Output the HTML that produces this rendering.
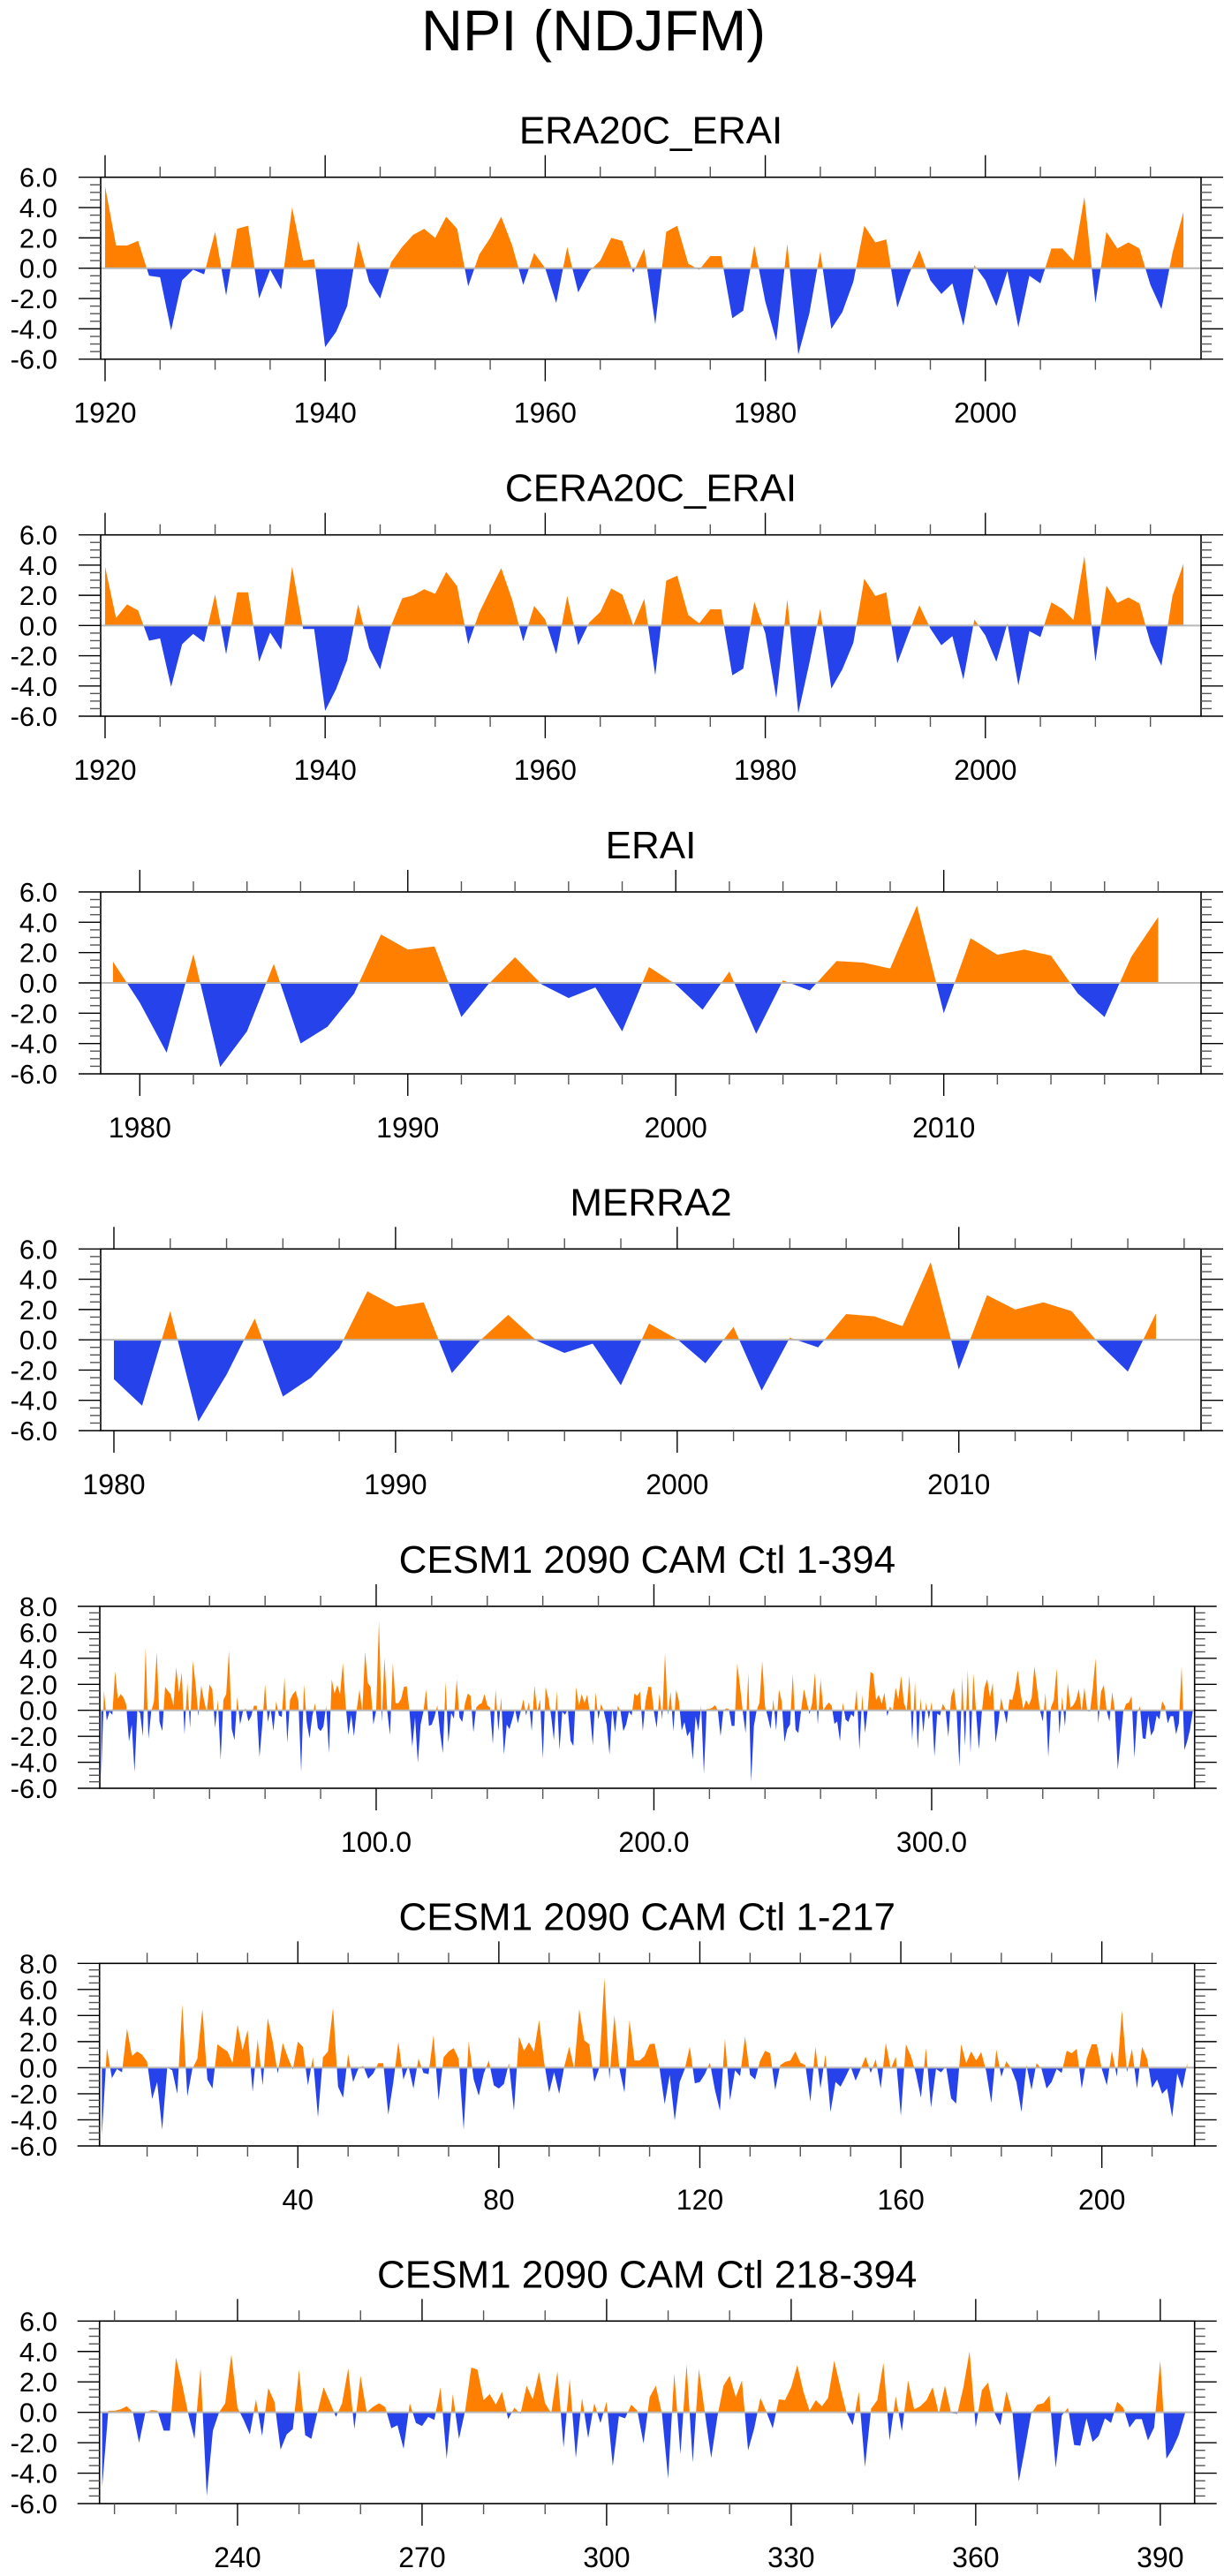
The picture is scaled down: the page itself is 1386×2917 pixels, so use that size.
<!DOCTYPE html>
<html>
<head>
<meta charset="utf-8">
<title>NPI (NDJFM)</title>
<style>
html,body{margin:0;padding:0;background:#fff;}
svg{display:block;}
text{font-family:"Liberation Sans",Arial,sans-serif;fill:#000;}
</style>
</head>
<body>
<svg id="chart" width="1386" height="2917" viewBox="0 0 1386 2917" xmlns="http://www.w3.org/2000/svg">
<text x="672" y="57" font-size="65" text-anchor="middle">NPI (NDJFM)</text>
</svg>
<script>
// ---- data ----
const era20cStart = 1920;
const era20cValues = [5.4,1.5,1.5,1.8,-0.5,-0.6,-4.1,-0.8,-0.1,-0.4,
2.4,-1.8,2.6,2.8,-2.0,-0.1,-1.4,4.0,0.5,0.6,
-5.2,-4.2,-2.5,1.8,-0.9,-2.0,0.4,1.4,2.2,2.6,
2.0,3.4,2.6,-1.2,0.9,2.0,3.4,1.5,-1.1,1.0,
0.0,-2.3,1.4,-1.6,-0.2,0.5,2.0,1.8,-0.3,1.3,
-3.7,2.4,2.8,0.3,-0.1,0.8,0.8,-3.3,-2.8,1.5,
-2.2,-4.8,1.6,-5.7,-3.0,1.1,-4.0,-2.9,-0.9,2.8,
1.7,1.9,-2.6,-0.5,1.2,-0.8,-1.7,-1.0,-3.8,0.2,
-0.8,-2.5,-0.2,-3.9,-0.5,-1.0,1.3,1.3,0.5,4.7,
-2.3,2.4,1.3,1.7,1.3,-1.1,-2.7,1.0,3.7];
const cera20cStart = 1920;
const cera20cValues = [3.9,0.5,1.4,1.0,-1.0,-0.85,-4.06,-1.24,-0.56,-1.1,
2.06,-1.9,2.2,2.2,-2.4,-0.47,-1.6,3.9,-0.23,-0.23,
-5.65,-4.2,-2.3,1.4,-1.5,-2.9,0.0,1.8,2.0,2.4,
2.1,3.55,2.6,-1.24,0.85,2.35,3.8,1.7,-1.05,1.3,
0.4,-1.9,1.96,-1.3,0.2,0.9,2.45,2.06,0.0,1.77,
-3.3,2.97,3.3,0.7,0.15,1.07,1.07,-3.3,-2.85,1.57,
-0.5,-4.8,1.73,-5.8,-2.5,1.1,-4.17,-2.9,-1.15,3.1,
1.96,2.2,-2.5,-0.56,1.34,-0.2,-1.3,-0.7,-3.57,0.4,
-0.66,-2.4,0.15,-3.96,-0.37,-0.76,1.53,1.1,0.37,4.6,
-2.4,2.64,1.5,1.86,1.47,-1.15,-2.66,1.96,4.1];
const eraiStart = 1979;
const eraiValues = [1.4,-1.3,-4.6,1.9,-5.55,-3.2,1.25,-4.0,-2.9,-0.7,
3.2,2.2,2.4,-2.25,-0.1,1.7,-0.1,-1.0,-0.3,-3.2,
1.05,-0.1,-1.77,0.75,-3.36,0.17,-0.5,1.44,1.34,0.95,
5.1,-2.0,2.95,1.86,2.2,1.8,-0.7,-2.25,1.73,4.35];
const merra2Start = 1980;
const merra2Values = [-2.6,-4.35,1.9,-5.4,-2.3,1.4,-3.75,-2.5,-0.55,3.2,
2.2,2.47,-2.2,-0.05,1.65,-0.05,-0.87,-0.25,-3.0,1.07,
0.04,-1.55,0.85,-3.35,0.14,-0.5,1.7,1.55,0.9,5.13,
-1.96,2.95,2.0,2.47,1.9,-0.3,-2.1,1.75];
const cesmAStart = 1;
const cesmAValues = [-5.2,1.5,-0.8,-0.1,-0.35,3.0,0.9,1.25,1.0,0.45,
-2.4,-1.1,-4.75,0,-0.2,-2.0,4.85,-2.2,-0.1,0.7,
4.5,-0.9,-1.6,1.8,1.5,1.25,0.35,3.3,1.35,2.9,
-1.85,2.15,-1.35,3.8,2.0,-0.45,1.9,0.8,-0.15,2.0,
1.6,-1.35,0.8,-3.8,0.8,1.25,4.6,-1.45,-2.3,1.05,
-1.1,-0.1,0.15,-0.85,-0.45,0.35,0.35,-3.6,-1.1,2.0,
-0.9,0.15,-1.6,0.7,-0.4,-0.5,2.5,-2.5,0.8,1.25,
1.5,0.7,-4.75,2.0,-0.9,-2.15,-0.45,0.55,-1.35,-1.6,
-1.25,0.35,-3.3,2.4,1.3,1.95,1.25,3.65,0.45,-1.9,
-0.35,-2.0,0.05,1.6,-0.1,4.5,2.1,1.8,-1.1,0,
6.9,-0.9,4.05,-0.1,-1.9,3.65,0.55,0.55,0.9,1.8,
1.85,-0.1,-2.8,-0.55,-4.05,-1.1,-0.1,1.6,-1.2,-1.1,
-0.5,0.4,-1.7,-3.3,2.2,-2.5,-0.2,-0.65,2.4,-0.55,
-0.9,0.55,1.3,1.1,-1.7,0.2,0.45,0.55,1.25,0.4,
0.2,-2.6,1.6,-1.6,1.0,-3.4,-1.1,-1.45,-0.7,0.1,
-1.0,-0.1,0.85,-0.4,0.65,-1.6,1.9,-0.1,0.85,-3.7,
1.8,0.9,-0.45,-2.3,1.5,-3.05,-0.1,-0.35,0.1,-2.35,
-2.75,1.8,0.35,1.25,0.55,1.2,-0.3,-2.7,1.4,-0.7,
0.5,-0.1,-1.1,-3.4,0.2,-1.7,0.35,-0.1,-1.6,-1.1,
-0.1,-0.4,1.3,1.1,1.45,-1.6,0.7,1.8,1.8,-0.1,
-1.35,1.3,-0.7,4.4,-0.35,1.45,-1.6,1.6,0.7,-1.55,
-0.9,-2.0,-1.6,-3.8,-0.45,-1.6,0.35];
const cesmBStart = 218;
const cesmBValues = [-4.9,0.1,0.1,0.2,0.4,0,-2.0,-0.05,0.15,0.1,
-1.2,-1.2,3.6,1.85,-0.1,-1.75,2.9,-5.5,-1.2,0,
0.6,3.8,0.3,-0.5,-1.45,0.85,-1.55,1.6,0.7,-2.45,
-1.45,-1.1,2.8,-1.5,-1.75,0,1.65,0.7,-0.3,0.6,
2.9,-1.1,2.4,0,0.35,0.6,0.35,-1.05,-0.85,-2.4,
0.6,-0.7,-0.9,-0.3,-0.5,1.65,-3.05,1.2,-1.75,0.1,
2.95,2.8,0.8,1.2,0.5,1.35,-0.45,0.3,-0.1,1.75,
0.85,2.65,0.6,-0.05,2.7,-2.3,2.2,-3.0,0.95,-1.7,
0.6,-0.7,0.7,-3.55,-0.25,-0.4,0.5,0.1,-2.05,1.0,
1.75,-0.1,-4.35,2.55,-2.75,3.15,-3.3,2.85,-0.1,-3.0,
-0.3,1.75,2.4,1.0,2.1,-2.5,-1.05,0.95,0,-1.05,
0.85,0.8,1.65,3.1,1.35,0.1,0.8,0.4,0.95,3.4,
1.65,0,-0.85,1.35,-3.6,0.25,0.8,3.25,-1.85,1.05,
-1.25,2.1,0.2,0.4,0.8,1.65,-0.1,1.75,-0.05,-0.1,
1.65,4.0,-1.0,1.45,1.95,0,-0.85,1.4,-0.1,-4.55,
-2.4,-0.1,0.5,0.6,1.1,-3.65,-0.2,0.3,-2.15,-2.2,
-0.4,-1.95,-1.55,-0.4,-0.7,0.7,0.3,-1.0,-0.45,-0.45,
-1.85,-1.0,3.4,-3.05,-2.4,-1.5,-0.1];
const cesmAllValues = cesmAValues.concat(cesmBValues);

const panelTitles = ["ERA20C_ERAI","CERA20C_ERAI","ERAI","MERRA2","CESM1 2090 CAM Ctl 1-394","CESM1 2090 CAM Ctl 1-217","CESM1 2090 CAM Ctl 218-394"];
const yTicks6 = [-6,-4,-2,0,2,4,6];
const yTicks8 = [-6,-4,-2,0,2,4,6,8];
const xTicksCentury = [1920,1940,1960,1980,2000];
const xTicksDecade80 = [1980,1990,2000,2010];
const xTicks394 = [100,200,300];
const xTicks217 = [40,80,120,160,200];
const xTicks177 = [240,270,300,330,360,390];

// ---- layout ----
const NS = "http://www.w3.org/2000/svg";
const svg = document.getElementById("chart");
const panels = [
 {title:panelTitles[0], start:era20cStart, vals:era20cValues, top:200.7, bot:406.7, left:114, right:1360, xmin:1919.6, xmax:2019.6, ymin:-6, ymax:6, yt:yTicks6, xt:xTicksCentury, minor:5, fmt:v=>String(v), key:"era20c"},
 {title:panelTitles[1], start:cera20cStart, vals:cera20cValues, top:605.7, bot:811, left:114, right:1360, xmin:1919.6, xmax:2019.6, ymin:-6, ymax:6, yt:yTicks6, xt:xTicksCentury, minor:5, fmt:v=>String(v), key:"cera20c"},
 {title:panelTitles[2], start:eraiStart, vals:eraiValues, top:1010, bot:1216, left:114, right:1360, xmin:1978.54, xmax:2019.6, ymin:-6, ymax:6, yt:yTicks6, xt:xTicksDecade80, minor:2, fmt:v=>String(v), key:"erai"},
 {title:panelTitles[3], start:merra2Start, vals:merra2Values, top:1414.3, bot:1620, left:114, right:1360, xmin:1979.53, xmax:2018.6, ymin:-6, ymax:6, yt:yTicks6, xt:xTicksDecade80, minor:2, fmt:v=>String(v), key:"merra2"},
 {title:panelTitles[4], start:cesmAStart, vals:cesmAllValues, top:1819, bot:2025, left:113, right:1352.7, xmin:0.49, xmax:394.67, ymin:-6, ymax:8, yt:yTicks8, xt:xTicks394, minor:20, fmt:v=>v.toFixed(1), key:"cesm-1-394"},
 {title:panelTitles[5], start:cesmAStart, vals:cesmAValues, top:2223.3, bot:2430, left:112.7, right:1352.7, xmin:0.53, xmax:218.46, ymin:-6, ymax:8, yt:yTicks8, xt:xTicks217, minor:10, fmt:v=>String(v), key:"cesm-1-217"},
 {title:panelTitles[6], start:cesmBStart, vals:cesmBValues, top:2628.3, bot:2835, left:112.7, right:1352.7, xmin:217.57, xmax:395.58, ymin:-6, ymax:6, yt:yTicks6, xt:xTicks177, minor:10, fmt:v=>String(v), key:"cesm-218-394"}
];

function mk(tag, attrs, parent){
  const e = document.createElementNS(NS, tag);
  for (const k in attrs) e.setAttribute(k, attrs[k]);
  (parent||svg).appendChild(e);
  return e;
}

panels.forEach(function(p){
  const g = mk("g", {});
  
  
  const sx = v => p.left + (v - p.xmin) / (p.xmax - p.xmin) * (p.right - p.left);
  const sy = v => p.bot - (v - p.ymin) / (p.ymax - p.ymin) * (p.bot - p.top);
  const y0 = sy(0);

  // title
  const t = mk("text", {x:(p.left+p.right)/2, y:p.top-38, "font-size":44, "text-anchor":"middle"}, g);
  
  
  t.textContent = p.title;

  // points with zero crossings
  const pts = [];
  for (let i=0;i<p.vals.length;i++){
    const xv = p.start + i, v = p.vals[i];
    if (i>0){
      const pv = p.vals[i-1];
      if ((pv>0 && v<0) || (pv<0 && v>0)){
        const f = pv/(pv - v);
        pts.push([xv-1+f, 0]);
      }
    }
    pts.push([xv, v]);
  }
  function area(fn){
    let d = "M" + sx(pts[0][0]).toFixed(2) + "," + y0.toFixed(2);
    pts.forEach(q => { d += "L" + sx(q[0]).toFixed(2) + "," + sy(fn(q[1])).toFixed(2); });
    d += "L" + sx(pts[pts.length-1][0]).toFixed(2) + "," + y0.toFixed(2) + "Z";
    return d;
  }
  const pos = mk("path", {d:area(v=>Math.max(v,0)), fill:"#ff8000", stroke:"none"}, g);
  
  
  const neg = mk("path", {d:area(v=>Math.min(v,0)), fill:"#2642ea", stroke:"none"}, g);
  
  

  // zero line
  const zl = mk("line", {x1:p.left, x2:p.right, y1:y0, y2:y0, stroke:"#b8b8b8", "stroke-width":2}, g);
  
  

  // frame
  const fr = mk("rect", {x:p.left, y:p.top, width:p.right-p.left, height:p.bot-p.top, fill:"none", stroke:"#000", "stroke-width":1.6}, g);
  
  

  // y ticks (major every 2, minor every 0.5)
  for (let v=p.ymin; v<=p.ymax+1e-9; v+=0.5){
    const y = sy(v);
    const major = Math.abs(v/2 - Math.round(v/2)) < 1e-9;
    const len = major ? 25 : 12;
    mk("line", {x1:p.left-len, x2:p.left, y1:y, y2:y, stroke:major?"#000":"#555", "stroke-width":1.4}, g);
    mk("line", {x1:p.right, x2:p.right+len, y1:y, y2:y, stroke:major?"#000":"#555", "stroke-width":1.4}, g);
  }
  p.yt.forEach(function(v){
    const lb = mk("text", {x:65, y:sy(v)+11, "font-size":31, "text-anchor":"end"}, g);
    
    
    lb.textContent = v.toFixed(1);
  });

  // x ticks
  const first = Math.ceil(p.xmin / p.minor) * p.minor;
  for (let v=first; v<=p.xmax; v+=p.minor){
    const x = sx(v);
    const major = p.xt.indexOf(v) >= 0 || (p.xt.length>1 && ((v - p.xt[0]) % (p.xt[1]-p.xt[0]) === 0));
    const len = major ? 25 : 12;
    mk("line", {x1:x, x2:x, y1:p.top-len, y2:p.top, stroke:major?"#000":"#555", "stroke-width":1.4}, g);
    mk("line", {x1:x, x2:x, y1:p.bot, y2:p.bot+len, stroke:major?"#000":"#555", "stroke-width":1.4}, g);
  }
  p.xt.forEach(function(v){
    const lb = mk("text", {x:sx(v), y:p.bot+72, "font-size":32, "text-anchor":"middle"}, g);
    
    
    lb.textContent = p.fmt(v);
  });
});
</script>
</body>
</html>
